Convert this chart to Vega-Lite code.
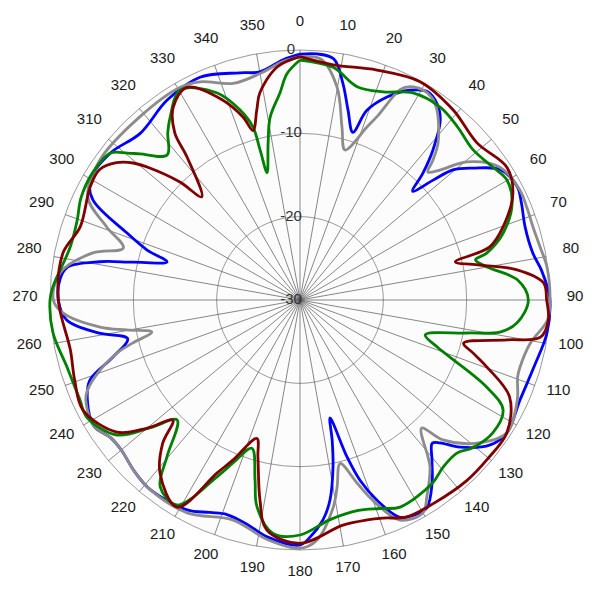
{
"$schema": "https://vega.github.io/schema/vega-lite/v6.json",
"width": 600, "height": 600,
"autosize": {"type": "fit", "contains": "padding"},
"padding": 0,
"background": "white",
"config": {"view": {"stroke": null}},
"datasets": {
"rings": [{"db": -20}, {"db": -10}, {"db": 0}],
"spokes": [{"a":0},{"a":10},{"a":20},{"a":30},{"a":40},{"a":50},{"a":60},{"a":70},{"a":80},{"a":90},{"a":100},{"a":110},{"a":120},{"a":130},{"a":140},{"a":150},{"a":160},{"a":170},{"a":180},{"a":190},{"a":200},{"a":210},{"a":220},{"a":230},{"a":240},{"a":250},{"a":260},{"a":270},{"a":280},{"a":290},{"a":300},{"a":310},{"a":320},{"a":330},{"a":340},{"a":350}],
"dblabels": [{"db": 0, "label": "0"}, {"db": -10, "label": "-10"}, {"db": -20, "label": "-20"}, {"db": -30, "label": "-30"}],
"curves": [
{"s":"blue","a":0,"d":-0.5},{"s":"blue","a":4,"d":-0.4},{"s":"blue","a":8,"d":-0.8},{"s":"blue","a":11.2,"d":-3.5},{"s":"blue","a":14.2,"d":-6.5},{"s":"blue","a":17.5,"d":-8.9},{"s":"blue","a":19.4,"d":-5.9},{"s":"blue","a":23.2,"d":-3.5},{"s":"blue","a":27.6,"d":-1.6},{"s":"blue","a":31.4,"d":-0.7},{"s":"blue","a":35,"d":-1.3},{"s":"blue","a":37.9,"d":-2.6},{"s":"blue","a":41.6,"d":-6},{"s":"blue","a":44.1,"d":-8.8},{"s":"blue","a":46,"d":-11.2},{"s":"blue","a":48,"d":-8.5},{"s":"blue","a":49.6,"d":-5.9},{"s":"blue","a":52.7,"d":-3.9},{"s":"blue","a":57,"d":-1.3},{"s":"blue","a":62.5,"d":-0.6},{"s":"blue","a":66.4,"d":-1.0},{"s":"blue","a":72,"d":-1.6},{"s":"blue","a":78.6,"d":-1.5},{"s":"blue","a":83,"d":-0.8},{"s":"blue","a":87.7,"d":-0.2},{"s":"blue","a":90,"d":0},{"s":"blue","a":97.6,"d":-0.1},{"s":"blue","a":106,"d":-0.8},{"s":"blue","a":114.4,"d":-1.0},{"s":"blue","a":122.7,"d":-0.5},{"s":"blue","a":127.3,"d":-1.3},{"s":"blue","a":132.6,"d":-3.9},{"s":"blue","a":135.6,"d":-6.0},{"s":"blue","a":137.3,"d":-6.6},{"s":"blue","a":140.5,"d":-5.1},{"s":"blue","a":144.2,"d":-2.9},{"s":"blue","a":148.5,"d":-0.8},{"s":"blue","a":151,"d":-0.7},{"s":"blue","a":155.3,"d":-1.3},{"s":"blue","a":159,"d":-4.3},{"s":"blue","a":161.6,"d":-7.2},{"s":"blue","a":163.3,"d":-10.3},{"s":"blue","a":165.7,"d":-15.4},{"s":"blue","a":167.1,"d":-12.7},{"s":"blue","a":168.8,"d":-9.6},{"s":"blue","a":171.5,"d":-5.7},{"s":"blue","a":174,"d":-3.5},{"s":"blue","a":177.6,"d":-1.5},{"s":"blue","a":180,"d":-0.6},{"s":"blue","a":187.9,"d":-1.3},{"s":"blue","a":193,"d":-2.3},{"s":"blue","a":198.8,"d":-2.8},{"s":"blue","a":203,"d":-2.3},{"s":"blue","a":208.3,"d":-1.4},{"s":"blue","a":218.3,"d":-1.0},{"s":"blue","a":224,"d":-1.4},{"s":"blue","a":230,"d":-2.0},{"s":"blue","a":234,"d":-1.9},{"s":"blue","a":238.5,"d":-1.0},{"s":"blue","a":244.8,"d":-1.8},{"s":"blue","a":249.1,"d":-3.0},{"s":"blue","a":253,"d":-6.5},{"s":"blue","a":257.3,"d":-8.8},{"s":"blue","a":260.6,"d":-5.6},{"s":"blue","a":265.1,"d":-1.9},{"s":"blue","a":270,"d":-1.0},{"s":"blue","a":275,"d":-1.1},{"s":"blue","a":278,"d":-1.8},{"s":"blue","a":280.8,"d":-5.5},{"s":"blue","a":282.8,"d":-9.5},{"s":"blue","a":286,"d":-13.4},{"s":"blue","a":288.1,"d":-10.7},{"s":"blue","a":291.2,"d":-7.7},{"s":"blue","a":295.8,"d":-2.4},{"s":"blue","a":299.7,"d":-1.0},{"s":"blue","a":307.7,"d":-1.2},{"s":"blue","a":316.2,"d":-2.3},{"s":"blue","a":326.4,"d":-1.2},{"s":"blue","a":335.8,"d":-0.7},{"s":"blue","a":345.2,"d":-1.8},{"s":"blue","a":350,"d":-2.2},{"s":"blue","a":356,"d":-1.1},{"s":"blue","a":360,"d":-0.5},
{"s":"gray","a":0,"d":-0.8},{"s":"gray","a":5,"d":-1.0},{"s":"gray","a":9.9,"d":-4.1},{"s":"gray","a":13.6,"d":-8.6},{"s":"gray","a":16.7,"d":-11.2},{"s":"gray","a":21.2,"d":-7.7},{"s":"gray","a":22.8,"d":-6.1},{"s":"gray","a":25.5,"d":-2.0},{"s":"gray","a":27.3,"d":-1.2},{"s":"gray","a":30.5,"d":-0.8},{"s":"gray","a":33,"d":-1.0},{"s":"gray","a":35.8,"d":-1.9},{"s":"gray","a":41.3,"d":-4.9},{"s":"gray","a":43.5,"d":-6.8},{"s":"gray","a":45,"d":-8.3},{"s":"gray","a":47.1,"d":-7.1},{"s":"gray","a":50.4,"d":-4.0},{"s":"gray","a":56.4,"d":-1.2},{"s":"gray","a":63.4,"d":-0.5},{"s":"gray","a":67.7,"d":-0.6},{"s":"gray","a":72.6,"d":-0.7},{"s":"gray","a":77.5,"d":-0.5},{"s":"gray","a":82.4,"d":-0.1},{"s":"gray","a":90,"d":0},{"s":"gray","a":94.6,"d":-0.2},{"s":"gray","a":100.7,"d":-1.9},{"s":"gray","a":107,"d":-2.4},{"s":"gray","a":109.5,"d":-2.3},{"s":"gray","a":114.7,"d":-1.3},{"s":"gray","a":122.7,"d":-0.5},{"s":"gray","a":129,"d":-2.7},{"s":"gray","a":134.4,"d":-6.0},{"s":"gray","a":136.5,"d":-8.8},{"s":"gray","a":140.8,"d":-5.7},{"s":"gray","a":142.1,"d":-4.6},{"s":"gray","a":147.2,"d":-1.9},{"s":"gray","a":150,"d":-0.5},{"s":"gray","a":155.6,"d":-1.0},{"s":"gray","a":160,"d":-4.4},{"s":"gray","a":162.7,"d":-7.0},{"s":"gray","a":166.2,"d":-9.8},{"s":"gray","a":168.8,"d":-7.1},{"s":"gray","a":170.9,"d":-4.8},{"s":"gray","a":176,"d":-1.1},{"s":"gray","a":180,"d":-0.2},{"s":"gray","a":187.8,"d":-1.0},{"s":"gray","a":196.9,"d":-2.4},{"s":"gray","a":207.9,"d":-1.1},{"s":"gray","a":218.3,"d":-1.0},{"s":"gray","a":224,"d":-1.4},{"s":"gray","a":230,"d":-2.0},{"s":"gray","a":234,"d":-1.9},{"s":"gray","a":238.5,"d":-1.0},{"s":"gray","a":244.8,"d":-1.6},{"s":"gray","a":247,"d":-2.3},{"s":"gray","a":250.7,"d":-4.6},{"s":"gray","a":253.8,"d":-7.1},{"s":"gray","a":255.6,"d":-9.3},{"s":"gray","a":257.8,"d":-11.8},{"s":"gray","a":260.2,"d":-8.9},{"s":"gray","a":262.3,"d":-5.8},{"s":"gray","a":266.9,"d":-1.5},{"s":"gray","a":270,"d":-0.4},{"s":"gray","a":276.4,"d":-1.0},{"s":"gray","a":282.8,"d":-4.5},{"s":"gray","a":286.4,"d":-7.9},{"s":"gray","a":290.7,"d":-5.2},{"s":"gray","a":295.9,"d":-1.7},{"s":"gray","a":305,"d":-0.7},{"s":"gray","a":318.8,"d":-0.8},{"s":"gray","a":330.5,"d":-0.7},{"s":"gray","a":335.4,"d":-1.2},{"s":"gray","a":342.9,"d":-2.8},{"s":"gray","a":350,"d":-2.4},{"s":"gray","a":356,"d":-1.3},{"s":"gray","a":360,"d":-0.8},
{"s":"green","a":0,"d":-1.2},{"s":"green","a":8.1,"d":-1.8},{"s":"green","a":15,"d":-3.5},{"s":"green","a":21.8,"d":-3.1},{"s":"green","a":28.6,"d":-1.7},{"s":"green","a":36,"d":-1.4},{"s":"green","a":42.2,"d":-1.9},{"s":"green","a":49,"d":-2.5},{"s":"green","a":55.4,"d":-1.9},{"s":"green","a":59.9,"d":-1.3},{"s":"green","a":65.4,"d":-2.0},{"s":"green","a":71.7,"d":-4.3},{"s":"green","a":75.9,"d":-6.9},{"s":"green","a":77.1,"d":-8.4},{"s":"green","a":80,"d":-7.2},{"s":"green","a":84.7,"d":-3.8},{"s":"green","a":90,"d":-2.6},{"s":"green","a":96,"d":-3.8},{"s":"green","a":99.1,"d":-5.7},{"s":"green","a":101.2,"d":-9.6},{"s":"green","a":105.6,"d":-14.4},{"s":"green","a":108.9,"d":-12.6},{"s":"green","a":110.8,"d":-10.8},{"s":"green","a":115,"d":-5.3},{"s":"green","a":118.4,"d":-2.3},{"s":"green","a":124.6,"d":-1.9},{"s":"green","a":130.4,"d":-2.7},{"s":"green","a":134.3,"d":-3.7},{"s":"green","a":139.4,"d":-3.6},{"s":"green","a":144,"d":-2.9},{"s":"green","a":154.2,"d":-2.4},{"s":"green","a":159,"d":-3.2},{"s":"green","a":164.8,"d":-3.8},{"s":"green","a":172.2,"d":-3.4},{"s":"green","a":180,"d":-1.8},{"s":"green","a":186.6,"d":-1.8},{"s":"green","a":191.8,"d":-4.7},{"s":"green","a":194,"d":-7.7},{"s":"green","a":198,"d":-11.3},{"s":"green","a":202.3,"d":-8.9},{"s":"green","a":205.1,"d":-6.6},{"s":"green","a":211,"d":-1.3},{"s":"green","a":216.8,"d":-2.0},{"s":"green","a":220.3,"d":-5.3},{"s":"green","a":225.7,"d":-9.4},{"s":"green","a":229.5,"d":-6.4},{"s":"green","a":233.6,"d":-2.7},{"s":"green","a":241.2,"d":-0.8},{"s":"green","a":245.6,"d":-1.0},{"s":"green","a":254,"d":-0.9},{"s":"green","a":262.4,"d":-0.1},{"s":"green","a":270,"d":0},{"s":"green","a":273,"d":-0.3},{"s":"green","a":283,"d":-1.7},{"s":"green","a":289.7,"d":-1.6},{"s":"green","a":295,"d":-1.0},{"s":"green","a":301.5,"d":-0.8},{"s":"green","a":307.7,"d":-1.2},{"s":"green","a":310.4,"d":-2.8},{"s":"green","a":312.4,"d":-4.0},{"s":"green","a":317.5,"d":-6.4},{"s":"green","a":321.7,"d":-4.4},{"s":"green","a":324.6,"d":-3.1},{"s":"green","a":330.3,"d":-1.0},{"s":"green","a":338.1,"d":-3.2},{"s":"green","a":342.5,"d":-6.1},{"s":"green","a":344.8,"d":-8.5},{"s":"green","a":345.1,"d":-11.4},{"s":"green","a":345.5,"d":-14.2},{"s":"green","a":348.5,"d":-10.8},{"s":"green","a":350.7,"d":-7.8},{"s":"green","a":354.5,"d":-5.0},{"s":"green","a":356.7,"d":-2.8},{"s":"green","a":360,"d":-1.2},
{"s":"red","a":0,"d":-0.8},{"s":"red","a":8,"d":-1.5},{"s":"red","a":18.5,"d":-0.9},{"s":"red","a":28.8,"d":-0.1},{"s":"red","a":38.8,"d":-0.7},{"s":"red","a":48.4,"d":-1.6},{"s":"red","a":57.3,"d":-0.5},{"s":"red","a":63.3,"d":-1.4},{"s":"red","a":70.2,"d":-4.1},{"s":"red","a":74.4,"d":-6.4},{"s":"red","a":76.2,"d":-10.8},{"s":"red","a":79,"d":-8},{"s":"red","a":82.1,"d":-3.7},{"s":"red","a":86,"d":-0.7},{"s":"red","a":90,"d":-0.4},{"s":"red","a":94.6,"d":-0.1},{"s":"red","a":98.8,"d":-0.8},{"s":"red","a":100.9,"d":-4.7},{"s":"red","a":104.8,"d":-9.7},{"s":"red","a":107,"d":-8.3},{"s":"red","a":109.7,"d":-6.2},{"s":"red","a":114.8,"d":-2.3},{"s":"red","a":122.7,"d":-0.5},{"s":"red","a":130.5,"d":-0.5},{"s":"red","a":137.1,"d":-0.5},{"s":"red","a":146.8,"d":-0.8},{"s":"red","a":153.8,"d":-1.0},{"s":"red","a":159.2,"d":-2.0},{"s":"red","a":163,"d":-2.4},{"s":"red","a":169.2,"d":-2.5},{"s":"red","a":180,"d":-0.8},{"s":"red","a":188.2,"d":-2.1},{"s":"red","a":191.3,"d":-5.5},{"s":"red","a":195,"d":-10.5},{"s":"red","a":197.3,"d":-12.6},{"s":"red","a":202.7,"d":-9.2},{"s":"red","a":205.6,"d":-7.0},{"s":"red","a":210.7,"d":-1.1},{"s":"red","a":219,"d":-3.3},{"s":"red","a":223.8,"d":-6.2},{"s":"red","a":226.6,"d":-9.0},{"s":"red","a":230,"d":-6.1},{"s":"red","a":234.2,"d":-2.9},{"s":"red","a":243.1,"d":-0.8},{"s":"red","a":250.4,"d":-1.3},{"s":"red","a":257.7,"d":-1.8},{"s":"red","a":270,"d":-1.0},{"s":"red","a":281.2,"d":-1.0},{"s":"red","a":288.4,"d":-2.2},{"s":"red","a":298.3,"d":-1.4},{"s":"red","a":303,"d":-1.3},{"s":"red","a":306.8,"d":-2.5},{"s":"red","a":309.4,"d":-4.1},{"s":"red","a":311.3,"d":-6.0},{"s":"red","a":314.5,"d":-9.8},{"s":"red","a":316.4,"d":-12.9},{"s":"red","a":321.7,"d":-8.1},{"s":"red","a":323.2,"d":-4.9},{"s":"red","a":326.7,"d":-2.3},{"s":"red","a":332,"d":-1.1},{"s":"red","a":338.9,"d":-4.3},{"s":"red","a":342.7,"d":-7.0},{"s":"red","a":344.5,"d":-8.9},{"s":"red","a":347.2,"d":-6.6},{"s":"red","a":349,"d":-4.7},{"s":"red","a":354.4,"d":-1.9},{"s":"red","a":360,"d":-0.8}
]
},
"layer": [
{"data": {"values": [{"db": 0}]},
 "transform": [{"calculate": "datum.db+30", "as": "r"}, {"calculate": "0", "as": "o"}],
 "mark": {"type": "point", "shape": "circle", "filled": true, "fill": "#fcfcfc", "opacity": 1, "strokeWidth": 0},
 "encoding": {
  "x": {"field": "o", "type": "quantitative", "scale": {"domain": [-36, 36], "nice": false, "zero": false}, "axis": null},
  "y": {"field": "o", "type": "quantitative", "scale": {"domain": [-36, 36], "nice": false, "zero": false}, "axis": null},
  "size": {"field": "r", "type": "quantitative", "scale": {"type": "pow", "exponent": 2, "domain": [0, 30], "range": [0, 250000], "zero": true, "nice": false}, "legend": null}}},
{"data": {"name": "rings"},
 "transform": [{"calculate": "datum.db+30", "as": "r"}, {"calculate": "0", "as": "o"}],
 "mark": {"type": "point", "shape": "circle", "filled": false, "stroke": "#9a9a9a", "strokeWidth": 1, "opacity": 1},
 "encoding": {
  "x": {"field": "o", "type": "quantitative"},
  "y": {"field": "o", "type": "quantitative"},
  "size": {"field": "r", "type": "quantitative"}}},
{"data": {"name": "spokes"},
 "transform": [{"calculate": "30*sin(datum.a*PI/180)", "as": "xe"}, {"calculate": "30*cos(datum.a*PI/180)", "as": "ye"}, {"calculate": "0", "as": "o"}],
 "mark": {"type": "rule", "stroke": "#555555", "strokeWidth": 0.7},
 "encoding": {
  "x": {"field": "o", "type": "quantitative"},
  "y": {"field": "o", "type": "quantitative"},
  "x2": {"field": "xe"}, "y2": {"field": "ye"}}},
{"data": {"name": "dblabels"},
 "transform": [{"calculate": "datum.db+30", "as": "r"}, {"calculate": "-1.08", "as": "lx"}],
 "mark": {"type": "text", "font": "Liberation Sans", "fontSize": 15, "fill": "#333333", "align": "center", "baseline": "middle", "dy": -1},
 "encoding": {"x": {"field": "lx", "type": "quantitative"}, "y": {"field": "r", "type": "quantitative"}, "text": {"field": "label", "type": "nominal"}}},
{"data": {"name": "curves"},
 "transform": [{"calculate": "(datum.d+30)*sin(datum.a*PI/180)", "as": "x"}, {"calculate": "(datum.d+30)*cos(datum.a*PI/180)", "as": "y"}],
 "mark": {"type": "line", "interpolate": "catmull-rom", "strokeWidth": 2.8, "strokeJoin": "round"},
 "encoding": {
  "x": {"field": "x", "type": "quantitative"},
  "y": {"field": "y", "type": "quantitative"},
  "color": {"field": "s", "type": "nominal", "scale": {"domain": ["blue", "gray", "green", "red"], "range": ["#0000ff", "#8c8c8c", "#008000", "#800000"]}, "legend": null},
  "order": {"field": "a", "type": "quantitative"}}},
{"data": {"name": "spokes"},
 "transform": [{"calculate": "33*sin(datum.a*PI/180)", "as": "xl"}, {"calculate": "33*cos(datum.a*PI/180)", "as": "yl"}],
 "mark": {"type": "text", "font": "Liberation Sans", "fontSize": 15, "fill": "#1a1a1a", "align": "center", "baseline": "middle", "dy": -4},
 "encoding": {"x": {"field": "xl", "type": "quantitative"}, "y": {"field": "yl", "type": "quantitative"}, "text": {"field": "a", "type": "nominal"}}}
]
}
